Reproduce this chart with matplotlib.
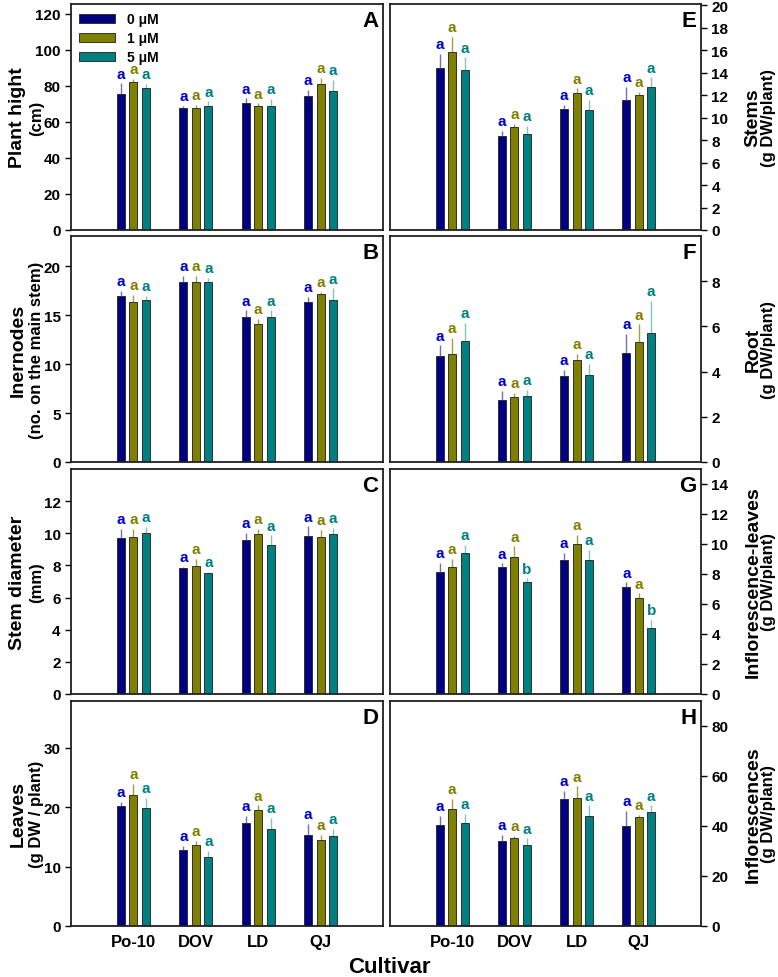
import matplotlib
matplotlib.use("Agg")
import matplotlib.pyplot as plt
import numpy as np

plt.rcParams['font.family'] = ['Liberation Sans', 'DejaVu Sans']
plt.rcParams['font.weight'] = 'bold'

cultivars = ["Po-10", "DOV", "LD", "QJ"]
treatments = ["0 μM", "1 μM", "5 μM"]

# mean values per treatment (rows) and cultivar (columns), with upper error
plant_height = [[75.6, 67.8, 70.7, 74.4], [82.4, 68.0, 68.9, 81.0], [79.1, 68.9, 68.7, 77.2]]
plant_height_err = [[5.9, 1.2, 2.4, 3.6], [1.5, 1.4, 1.5, 3.6], [2.0, 2.6, 4.1, 6.3]]
internodes = [[17.0, 18.4, 14.8, 16.4], [16.4, 18.4, 14.15, 17.2], [16.6, 18.4, 14.8, 16.6]]
internodes_err = [[0.5, 0.6, 0.7, 0.5], [0.7, 0.6, 0.45, 0.2], [0.4, 0.4, 0.7, 1.15]]
stem_diam = [[9.71, 7.83, 9.58, 9.83], [9.77, 7.97, 9.95, 9.77], [10.04, 7.52, 9.27, 9.98]]
stem_diam_err = [[0.56, 0.08, 0.46, 0.6], [0.5, 0.46, 0.33, 0.43], [0.35, 0.1, 0.6, 0.35]]
leaves = [[20.24, 12.72, 17.4, 15.4], [22.0, 13.7, 19.6, 14.5], [19.9, 11.6, 16.4, 15.2]]
leaves_err = [[0.7, 0.8, 1.2, 1.8], [1.9, 0.6, 0.7, 0.8], [1.7, 1.0, 1.8, 1.2]]
stems = [[14.37, 8.33, 10.73, 11.53], [15.82, 9.16, 12.15, 12.0], [14.19, 8.53, 10.64, 12.74]]
stems_err = [[1.27, 0.5, 0.37, 1.17], [1.38, 0.26, 0.45, 0.27], [1.16, 0.71, 0.96, 0.83]]
root = [[4.71, 2.76, 3.82, 4.84], [4.77, 2.86, 4.5, 5.32], [5.35, 2.9, 3.87, 5.73]]
root_err = [[0.45, 0.4, 0.26, 0.84], [0.71, 0.2, 0.29, 0.77], [0.8, 0.28, 0.46, 1.41]]
infl_leaves = [[8.15, 8.44, 8.96, 7.11], [8.44, 9.11, 10.0, 6.42], [9.38, 7.44, 8.96, 4.38]]
infl_leaves_err = [[0.58, 0.27, 0.44, 0.33], [0.56, 0.73, 0.62, 0.29], [0.58, 0.27, 0.66, 0.58]]
inflorescences = [[40.4, 33.9, 50.8, 40.0], [46.8, 35.0, 51.2, 43.7], [41.2, 32.3, 44.1, 45.5]]
inflorescences_err = [[3.5, 2.4, 3.2, 5.9], [4.0, 0.9, 4.5, 0.6], [3.5, 2.7, 4.0, 2.6]]

# significance letters, same layout as values
letters_G = [["a", "a", "a", "a"], ["a", "a", "a", "a"], ["a", "b", "a", "b"]]

bar_colors = ["#000080", "#808000", "#008080"]
err_colors = ["#7070c0", "#a0a040", "#80c4c4"]
txt_colors = ["#0000d0", "#808000", "#008080"]

W, H = 778, 978
fig = plt.figure(figsize=(W / 100, H / 100), dpi=100)

rows_px = [(5, 231), (237, 463), (470, 695), (702, 927)]
cols_px = [(71, 383), (390, 701)]

panels = [
    # col, row, letter, data, err, ylim, yticks, main label, sub label, letters
    (0, 0, "A", plant_height, plant_height_err, 125.5, np.arange(0, 121, 20), "Plant hight", "(cm)", None),
    (0, 1, "B", internodes, internodes_err, 23.1, np.arange(0, 21, 5), "Inernodes", "(no. on the main stem)", None),
    (0, 2, "C", stem_diam, stem_diam_err, 14.0, np.arange(0, 13, 2), "Stem diameter", "(mm)", None),
    (0, 3, "D", leaves, leaves_err, 37.9, np.arange(0, 31, 10), "Leaves", "(g DW / plant)", None),
    (1, 0, "E", stems, stems_err, 20.1, np.arange(0, 21, 2), "Stems", "(g DW/plant)", None),
    (1, 1, "F", root, root_err, 10.0, np.arange(0, 9, 2), "Root", "(g DW/plant)", None),
    (1, 2, "G", infl_leaves, infl_leaves_err, 15.0, np.arange(0, 15, 2), "Inflorescence-leaves", "(g DW/plant)", letters_G),
    (1, 3, "H", inflorescences, inflorescences_err, 89.8, np.arange(0, 81, 20), "Inflorescences", "(g DW/plant)", None),
]

x = np.arange(1, len(cultivars) + 1)
offsets = [-0.2, 0.0, 0.2]
width = 0.13

for col, row, tag, data, err, ytop, yticks, lab1, lab2, lets in panels:
    x0, x1 = cols_px[col]
    top, bot = rows_px[row]
    ax = fig.add_axes([x0 / W, 1 - bot / H, (x1 - x0) / W, (bot - top) / H])
    for i in range(3):
        vals = np.array(data[i])
        e = np.array(err[i])
        xs = x + offsets[i]
        ax.vlines(xs, vals, vals + e, color=err_colors[i], lw=1.0, zorder=1)
        ax.bar(xs, vals, width, color=bar_colors[i], edgecolor="#303030", lw=0.7,
               label=treatments[i], zorder=2)
        for j in range(len(cultivars)):
            t = lets[i][j] if lets else "a"
            ax.text(xs[j], vals[j] + e[j] + ytop * 0.012, t, ha="center", va="bottom",
                    color=txt_colors[i], fontsize=11, fontweight="bold")
    ax.set_xlim(0, 5)
    ax.set_ylim(0, ytop)
    ax.set_yticks(yticks)
    ax.tick_params(axis="y", labelsize=11, width=1, length=4, direction="out")
    ax.tick_params(axis="x", length=0)
    for s in ax.spines.values():
        s.set_linewidth(1.3)
        s.set_color("#202020")
    if row == 3:
        ax.set_xticks(x)
        ax.set_xticklabels(cultivars, fontsize=12, fontweight="bold")
        ax.tick_params(axis="x", pad=6)
    else:
        ax.set_xticks([])
    for lbl in ax.get_yticklabels():
        lbl.set_fontweight("bold")

    ax.text(0.985, 0.975, tag, transform=ax.transAxes, ha="right", va="top",
            fontsize=16, fontweight="bold")

    yc = 1 - (top + bot) / 2 / H
    if col == 0:
        ax.yaxis.tick_left()
        fig.text(18 / W, yc, lab1, rotation=90, ha="center", va="center",
                 fontsize=14, fontweight="bold")
        fig.text(37 / W, yc, lab2, rotation=90, ha="center", va="center",
                 fontsize=12, fontweight="bold")
    else:
        ax.yaxis.tick_right()
        fig.text(753 / W, yc, lab1, rotation=90, ha="center", va="center",
                 fontsize=14, fontweight="bold")
        fig.text(769 / W, yc, lab2, rotation=90, ha="center", va="center",
                 fontsize=12, fontweight="bold")

    if tag == "A":
        ax.legend(loc="upper left", frameon=False, handlelength=2.6,
                  handleheight=0.6, labelspacing=0.35, borderaxespad=0.2,
                  prop={"weight": "bold", "size": 10})

fig.text(389 / W, 1 - 968 / H, "Cultivar", ha="center", va="center",
         fontsize=16, fontweight="bold")

fig.savefig("out.png", dpi=100)
